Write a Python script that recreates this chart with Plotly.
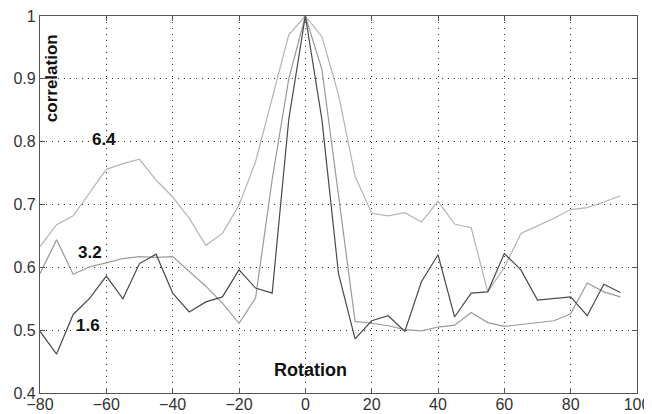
import plotly.graph_objects as go

rotation = list(range(-80, 100, 5))

corr_64 = [0.633, 0.668, 0.682, 0.720, 0.756, 0.765, 0.772, 0.739, 0.712, 0.678,
           0.635, 0.654, 0.699, 0.768, 0.868, 0.970, 1.000, 0.967, 0.875, 0.745,
           0.686, 0.682, 0.687, 0.672, 0.705, 0.669, 0.663, 0.561, 0.600, 0.654,
           0.666, 0.678, 0.692, 0.695, 0.704, 0.714]

corr_32 = [0.590, 0.644, 0.589, 0.601, 0.607, 0.614, 0.617, 0.616, 0.617, 0.594,
           0.570, 0.543, 0.511, 0.551, 0.740, 0.900, 1.000, 0.915, 0.718, 0.514,
           0.511, 0.507, 0.501, 0.499, 0.505, 0.508, 0.528, 0.512, 0.506, 0.509,
           0.512, 0.515, 0.526, 0.575, 0.561, 0.553]

corr_16 = [0.498, 0.462, 0.525, 0.551, 0.586, 0.550, 0.606, 0.621, 0.559, 0.529,
           0.545, 0.553, 0.596, 0.567, 0.559, 0.835, 1.000, 0.835, 0.590, 0.486,
           0.515, 0.523, 0.498, 0.577, 0.620, 0.521, 0.559, 0.561, 0.622, 0.596,
           0.548, 0.551, 0.553, 0.523, 0.573, 0.560]

x_ticks = [-80, -60, -40, -20, 0, 20, 40, 60, 80, 100]
x_tick_text = ["\u221280", "\u221260", "\u221240", "\u221220", "0", "20", "40", "60", "80", "100"]
y_ticks = [0.4, 0.5, 0.6, 0.7, 0.8, 0.9, 1.0]
y_tick_text = ["0.4", "0.5", "0.6", "0.7", "0.8", "0.9", "1"]

fig = go.Figure()
fig.add_trace(go.Scatter(x=rotation, y=corr_64, mode="lines", name="6.4",
                         line=dict(color="#b4b4b4", width=1.2)))
fig.add_trace(go.Scatter(x=rotation, y=corr_32, mode="lines", name="3.2",
                         line=dict(color="#9a9a9a", width=1.2)))
fig.add_trace(go.Scatter(x=rotation, y=corr_16, mode="lines", name="1.6",
                         line=dict(color="#4a4a4a", width=1.2)))

font_fam = "Liberation Sans, Arial, sans-serif"

fig.add_annotation(x=-60.7, y=0.804, text="<b>6.4</b>", showarrow=False,
                   font=dict(size=17, color="#111", family=font_fam))
fig.add_annotation(x=-64.9, y=0.624, text="<b>3.2</b>", showarrow=False,
                   font=dict(size=17, color="#111", family=font_fam))
fig.add_annotation(x=-65.5, y=0.507, text="<b>1.6</b>", showarrow=False,
                   font=dict(size=17, color="#111", family=font_fam))
fig.add_annotation(x=-76.7, y=0.901, text="<b>correlation</b>", showarrow=False,
                   textangle=-90,
                   font=dict(size=17, color="#111", family=font_fam))
fig.add_annotation(x=1.5, y=0.437, text="<b>Rotation</b>", showarrow=False,
                   font=dict(size=18, color="#111", family=font_fam))

axis_common = dict(
    showline=True, linecolor="#555", linewidth=1.3, mirror="ticks",
    ticks="inside", ticklen=5, tickcolor="#555",
    showgrid=True, gridcolor="#333", griddash="1px,5px", gridwidth=1,
    zeroline=False, automargin=False, ticklabeloverflow="allow",
    tickfont=dict(size=16, color="#333", family=font_fam),
)

fig.update_xaxes(range=[-80, 100], tickvals=x_ticks, ticktext=x_tick_text,
                 ticklabelstandoff=-3, **axis_common)
fig.update_yaxes(range=[0.4, 1.0], tickvals=y_ticks, ticktext=y_tick_text, **axis_common)

# page body has an 8px margin, compensate so the plot area lands at the reference position
fig.update_layout(
    width=652, height=414,
    margin=dict(l=32, r=23, t=8, b=29, autoexpand=False),
    paper_bgcolor="white", plot_bgcolor="white",
    showlegend=False,
)

fig.write_html("out.html")
